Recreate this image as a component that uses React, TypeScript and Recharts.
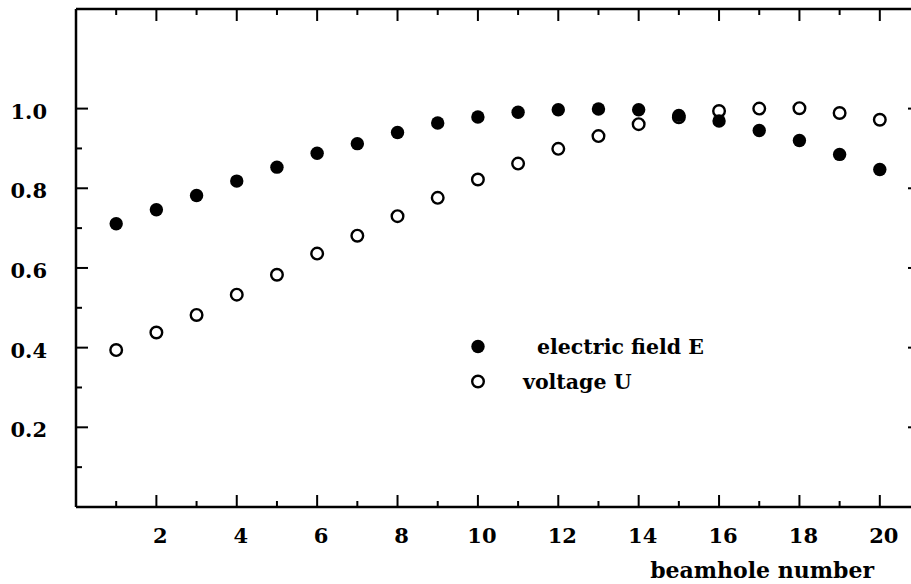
import { Legend, Scatter, ScatterChart, XAxis, YAxis } from "recharts";

const beamholes = [1, 2, 3, 4, 5, 6, 7, 8, 9, 10, 11, 12, 13, 14, 15, 16, 17, 18, 19, 20];
const fieldE = [
  0.711, 0.746, 0.782, 0.818, 0.853, 0.888, 0.912, 0.94, 0.964, 0.979,
  0.991, 0.997, 0.999, 0.997, 0.983, 0.969, 0.945, 0.92, 0.885, 0.847,
];
const voltageU = [
  0.394, 0.438, 0.482, 0.533, 0.583, 0.636, 0.681, 0.73, 0.776, 0.822,
  0.862, 0.899, 0.931, 0.961, 0.978, 0.994, 1.0, 1.001, 0.989, 0.972,
];
const xTicks = [1, 2, 3, 4, 5, 6, 7, 8, 9, 10, 11, 12, 13, 14, 15, 16, 17, 18, 19, 20, 21];
const yTicks = [0.1, 0.2, 0.3, 0.4, 0.5, 0.6, 0.7, 0.8, 0.9, 1.0];
const yLabels = ["0.2", "0.4", "0.6", "0.8", "1.0"];

const eData = beamholes.map((b, i) => ({ beamhole: b, value: fieldE[i] }));
const uData = beamholes.map((b, i) => ({ beamhole: b, value: voltageU[i] }));

const FONT = "'DejaVu Serif', 'Liberation Serif', serif";
const axisLine = { stroke: "#000", strokeWidth: 2.5 };

const isMajorX = (v: number) => v % 2 === 0;
const yLabel = (v: number) => v.toFixed(1);
const isMajorY = (v: number) => yLabels.includes(yLabel(v));

// ticks point inward, like the original plot
function BottomTick({ x, y, payload }: any) {
  const major = isMajorX(payload.value);
  return (
    <g>
      <line x1={x} x2={x} y1={y} y2={y - (major ? 12 : 6)} stroke="#000" strokeWidth={2} />
      {major && (
        <text x={x + 4} y={y + 36} textAnchor="middle" fontFamily={FONT} fontWeight="bold" fontSize={21} fill="#000">
          {payload.value}
        </text>
      )}
    </g>
  );
}

function TopTick({ x, y, payload }: any) {
  const major = isMajorX(payload.value);
  return <line x1={x} x2={x} y1={y} y2={y + (major ? 12 : 6)} stroke="#000" strokeWidth={2} />;
}

function LeftTick({ x, y, payload }: any) {
  const major = isMajorY(payload.value);
  return (
    <g>
      <line x1={x + 29} x2={x + 29 + (major ? 12 : 6)} y1={y} y2={y} stroke="#000" strokeWidth={2} />
      {major && (
        <text x={x} y={y + 10} textAnchor="end" fontFamily={FONT} fontWeight="bold" fontSize={21} fill="#000">
          {yLabel(payload.value)}
        </text>
      )}
    </g>
  );
}

function RightTick({ x, y, payload }: any) {
  const major = isMajorY(payload.value);
  return <line x1={x} x2={x - (major ? 12 : 6)} y1={y} y2={y} stroke="#000" strokeWidth={2} />;
}

const FilledDot = (p: any) => <circle cx={p.cx} cy={p.cy} r={6.7} fill="#000" />;
const OpenDot = (p: any) => <circle cx={p.cx} cy={p.cy} r={5.8} fill="none" stroke="#000" strokeWidth={2.4} />;

function LegendBox() {
  const row = { display: "flex", alignItems: "center", height: 35 };
  const txt = { fontFamily: FONT, fontWeight: "bold" as const, fontSize: 20.5, color: "#000", whiteSpace: "nowrap" as const };
  return (
    <div>
      <div style={row}>
        <svg width={26} height={35}>
          <circle cx={13} cy={17.5} r={6.7} fill="#000" />
        </svg>
        <span style={{ ...txt, marginLeft: 46 }}>electric field E</span>
      </div>
      <div style={row}>
        <svg width={26} height={35}>
          <circle cx={13} cy={17.5} r={5.8} fill="none" stroke="#000" strokeWidth={2.4} />
        </svg>
        <span style={{ ...txt, marginLeft: 32 }}>voltage U</span>
      </div>
    </div>
  );
}

export default function App() {
  return (
    <div style={{ position: "absolute", left: 0, top: 0, width: 911, height: 584, overflow: "hidden", background: "#fff" }}>
      <ScatterChart width={930} height={584} margin={{ top: 8, right: 9, bottom: 0, left: 0 }}>
        <XAxis
          dataKey="beamhole"
          type="number"
          domain={[0, 21]}
          ticks={xTicks}
          interval={0}
          height={77}
          tickSize={0}
          tickMargin={0}
          axisLine={axisLine}
          tick={<BottomTick />}
          label={{
            value: "beamhole number",
            position: "insideBottomRight",
            offset: 0,
            dx: -46,
            dy: -6,
            fill: "#000",
            fontSize: 22,
            fontWeight: "bold",
            fontFamily: FONT,
          }}
        />
        <XAxis
          xAxisId="top"
          orientation="top"
          dataKey="beamhole"
          type="number"
          domain={[0, 21]}
          ticks={xTicks}
          interval={0}
          height={1}
          tickSize={0}
          tickMargin={0}
          axisLine={axisLine}
          tick={<TopTick />}
        />
        <YAxis
          dataKey="value"
          type="number"
          domain={[0, 1.25]}
          ticks={yTicks}
          interval={0}
          width={76}
          tickSize={0}
          tickMargin={29}
          axisLine={axisLine}
          tick={<LeftTick />}
        />
        <YAxis
          yAxisId="right"
          orientation="right"
          dataKey="value"
          type="number"
          domain={[0, 1.25]}
          ticks={yTicks}
          interval={0}
          width={1}
          tickSize={0}
          tickMargin={0}
          axisLine={axisLine}
          tick={<RightTick />}
        />
        <Legend
          layout="vertical"
          align="center"
          verticalAlign="middle"
          wrapperStyle={{ left: 465, top: 329, width: 300 }}
          content={<LegendBox />}
        />
        <Scatter data={uData} shape={OpenDot} isAnimationActive={false} />
        <Scatter data={eData} xAxisId="top" yAxisId="right" shape={FilledDot} isAnimationActive={false} />
      </ScatterChart>
    </div>
  );
}
